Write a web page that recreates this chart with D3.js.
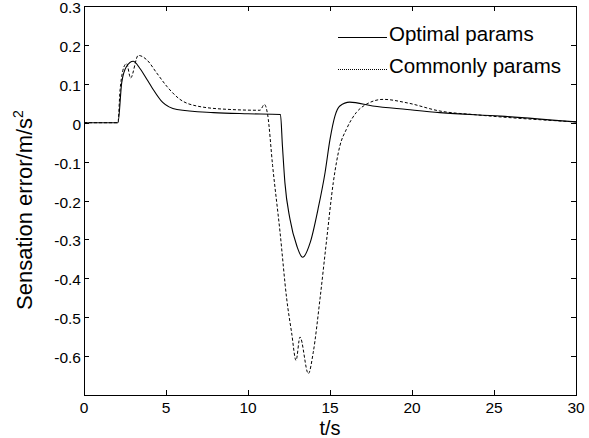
<!DOCTYPE html>
<html>
<head>
<meta charset="utf-8">
<script src="https://cdn.jsdelivr.net/npm/d3@7"></script>
<style>
  body { margin: 0; background: #fff; }
  text { font-family: "Liberation Sans", Arial, sans-serif; fill: #000; }
</style>
</head>
<body>
<script>
// data
let xTicks = [0, 5, 10, 15, 20, 25, 30];
let yTicks = [0.3, 0.2, 0.1, 0, -0.1, -0.2, -0.3, -0.4, -0.5, -0.6];
let yTickLabels = ['0.3', '0.2', '0.1', '0', '-0.1', '-0.2', '-0.3', '-0.4', '-0.5', '-0.6'];

let optimalT = [0, 2.07, 2.3, 2.6, 3.0, 3.4, 3.84, 4.15, 4.8, 5.67, 7.9, 10, 11.98,
  12.1, 12.25, 12.56, 12.98, 13.33, 13.8, 14.27, 14.7, 15.0, 15.3, 15.6, 16.2,
  17.6, 19.7, 21.7, 25.4, 30];
let optimalV = [0, 0, 0.103, 0.145, 0.158, 0.14, 0.111, 0.09, 0.052, 0.034, 0.026, 0.023, 0.021,
  -0.06, -0.154, -0.248, -0.317, -0.346, -0.307, -0.222, -0.128, -0.043, 0.017, 0.043, 0.053,
  0.043, 0.034, 0.026, 0.017, 0.002];

let commonT = [0, 2.07, 2.2, 2.5, 2.6, 2.84, 3.31, 3.82, 4.43, 5.04, 5.85, 6.87, 8.9, 10.73,
  11.0, 11.2, 11.5, 11.95, 12.36, 12.66, 12.93, 13.17, 13.68, 13.98, 14.39, 14.8, 15.2,
  15.6, 16.0, 16.6, 17.2, 18.25, 19.7, 21.7, 24, 30];
let commonV = [0, 0, 0.085, 0.149, 0.152, 0.115, 0.173, 0.162, 0.128, 0.094, 0.06, 0.043, 0.034, 0.032,
  0.047, 0.02, -0.11, -0.28, -0.453, -0.54, -0.611, -0.551, -0.645, -0.59, -0.453, -0.299, -0.154,
  -0.06, -0.017, 0.026, 0.047, 0.06, 0.051, 0.03, 0.02, 0.002];

let seriesNames = ['Optimal params', 'Commonly params'];

let width = 589;
let height = 438;
let margin = { left: 84, right: 13, top: 6, bottom: 43 };

let svg = d3.select('body').append('svg')
  .attr('width', width)
  .attr('height', height);

let xScale = d3.scaleLinear().domain([0, 30]).range([margin.left, width - margin.right]);
let yScale = d3.scaleLinear().domain([-0.7, 0.3]).range([height - margin.bottom, margin.top]);

// tick marks (inside, mirrored on all sides)
let tickLen = 5;
let axes = svg.append('g').attr('stroke', '#000').attr('stroke-width', 1);

xTicks.forEach(t => {
  let x = Math.round(xScale(t)) + 0.5;
  axes.append('line').attr('x1', x).attr('x2', x)
    .attr('y1', yScale(-0.7)).attr('y2', yScale(-0.7) - tickLen);
  axes.append('line').attr('x1', x).attr('x2', x)
    .attr('y1', yScale(0.3)).attr('y2', yScale(0.3) + tickLen);
});
yTicks.forEach(v => {
  let y = Math.round(yScale(v)) + 0.5;
  axes.append('line').attr('x1', xScale(0)).attr('x2', xScale(0) + tickLen)
    .attr('y1', y).attr('y2', y);
  axes.append('line').attr('x1', xScale(30)).attr('x2', xScale(30) - tickLen)
    .attr('y1', y).attr('y2', y);
});

axes.append('rect')
  .attr('x', Math.round(xScale(0)) + 0.5)
  .attr('y', Math.round(yScale(0.3)) + 0.5)
  .attr('width', Math.round(xScale(30) - xScale(0)))
  .attr('height', Math.round(yScale(-0.7) - yScale(0.3)))
  .attr('fill', 'none');

// tick labels
svg.selectAll('.xlab')
  .data(xTicks)
  .enter()
  .append('text')
  .attr('x', d => xScale(d))
  .attr('y', yScale(-0.7) + 18)
  .attr('text-anchor', 'middle')
  .style('font-size', '15.5px')
  .text(d => d);

svg.selectAll('.ylab')
  .data(yTicks)
  .enter()
  .append('text')
  .attr('x', xScale(0) - 3)
  .attr('y', d => yScale(d) + 7)
  .attr('text-anchor', 'end')
  .style('font-size', '15.5px')
  .text((d, i) => yTickLabels[i]);

// axis captions
svg.append('text')
  .attr('x', xScale(15))
  .attr('y', 435)
  .attr('text-anchor', 'middle')
  .style('font-size', '20px')
  .text('t/s');

let yCap = svg.append('text')
  .attr('transform', 'translate(32,' + 210 + ') rotate(-90)')
  .attr('text-anchor', 'middle')
  .style('font-size', '22px');
yCap.append('tspan').text('Sensation error/m/s');
yCap.append('tspan').attr('dy', -9).style('font-size', '14px').text('2');

// lines
let line = d3.line()
  .x(d => xScale(d[0]))
  .y(d => yScale(d[1]))
  .curve(d3.curveMonotoneX);

let optimalData = optimalT.map((t, i) => [t, optimalV[i]]);
let commonData = commonT.map((t, i) => [t, commonV[i]]);

svg.append('path')
  .datum(commonData)
  .attr('d', line)
  .attr('fill', 'none')
  .attr('stroke', '#000')
  .attr('stroke-width', 1)
  .attr('stroke-dasharray', '3,2');

svg.append('path')
  .datum(optimalData)
  .attr('d', line)
  .attr('fill', 'none')
  .attr('stroke', '#000')
  .attr('stroke-width', 1.1);

// legend
let legend = svg.append('g');
legend.append('line')
  .attr('x1', 338).attr('x2', 387).attr('y1', 37.5).attr('y2', 37.5)
  .attr('stroke', '#000').attr('stroke-width', 1);
legend.append('line')
  .attr('x1', 338).attr('x2', 387).attr('y1', 69.5).attr('y2', 69.5)
  .attr('stroke', '#000').attr('stroke-width', 1).attr('stroke-dasharray', '1,1');
legend.selectAll('.legtext')
  .data(seriesNames)
  .enter()
  .append('text')
  .attr('x', 389)
  .attr('y', (d, i) => 41 + i * 32)
  .style('font-size', '20.5px')
  .text(d => d);
</script>
</body>
</html>
